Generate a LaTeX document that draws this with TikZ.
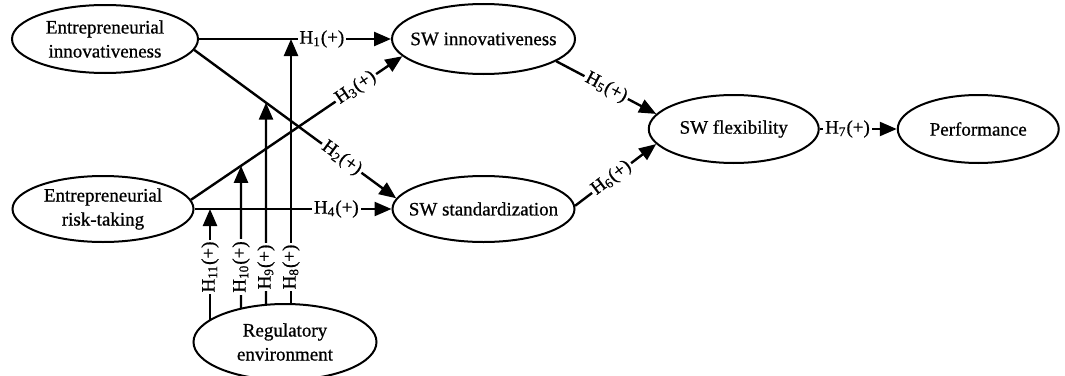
\documentclass[tikz,border=0pt]{standalone}
\usepackage{fontspec}
\setmainfont{Liberation Serif}[FakeBold=0.7]
\usetikzlibrary{shapes.geometric, positioning, calc, arrows.meta, backgrounds}

\begin{document}
\begin{tikzpicture}[x=0.5pt, y=-0.5pt,
    factor/.style={ellipse, draw=black, line width=1pt, fill=white, align=center, inner ysep=1pt, inner xsep=-8pt, font=\fontsize{9.5}{12}\selectfont},
    link/.style={-{Triangle[length=8.5pt, width=7pt]}, line width=1.2pt},
    hyp/.style={fill=white, inner sep=1pt, font=\fontsize{9.5}{11}\selectfont}]

      \useasboundingbox (0,0) rectangle (1065,375);

      % Konstrukte links
      \node[factor, minimum width=93pt, minimum height=34pt] (EI) at (105,39) {Entrepreneurial\\innovativeness};
      \node[factor, minimum width=90.5pt, minimum height=33pt, below=50.5pt of EI, xshift=-1pt] (ERT) {Entrepreneurial\\risk-taking};

      % Konstrukte Mitte
      \node[factor, minimum width=91.5pt, minimum height=35pt, right=96pt of EI] (SWI) {SW innovativeness};
      \node[factor, minimum width=91pt, minimum height=33pt, below=50pt of SWI] (SWS) {SW standardization};

      % Konstrukte rechts
      \coordinate (mid) at ($(SWI.east)!0.5!(SWS.east)$);
      \node[factor, minimum width=85pt, minimum height=34pt, right=36pt of mid, yshift=-2.5pt] (SWF) {SW flexibility};
      \node[factor, minimum width=80.5pt, minimum height=34pt, right=38.5pt of SWF] (Perf) {Performance};

      % Moderator
      \node[factor, minimum width=91.5pt, minimum height=38pt, below=30pt of ERT, xshift=91pt] (Reg) {Regulatory\\environment};

      % Pfeile
      \draw[link] (EI.east) -- node[hyp, pos=0.64] {H\textsubscript{1}(+)} (SWI.west);
      \draw[link] (EI.353) -- node[hyp, sloped, pos=0.73] {H\textsubscript{2}(+)} (SWS.173);
      \draw[link] (ERT.6) -- node[hyp, sloped, pos=0.78] {H\textsubscript{3}(+)} (SWI.192);
      \draw[link] (ERT.east) -- node[hyp, pos=0.72] {H\textsubscript{4}(+)} (ERT.east -| SWS.west);
      \draw[link] (SWI.343) -- node[hyp, sloped, pos=0.5] {H\textsubscript{5}(+)} (SWF.169);
      \draw[link] (SWS.2) -- node[hyp, sloped, pos=0.45] {H\textsubscript{6}(+)} (SWF.191);
      \draw[link] (SWF.east) -- node[hyp, pos=0.36] {H\textsubscript{7}(+)} (Perf.west);

      % Moderationspfeile
      \coordinate (m8) at ([xshift=3pt]Reg.center);
      \coordinate (m9) at ([xshift=-9.5pt]Reg.center);
      \coordinate (m10) at ([xshift=-22pt]Reg.center);
      \coordinate (m11) at ([xshift=-37.5pt]Reg.center);
      \coordinate (m9top) at (m9 |- EI.north);
      \coordinate (m10top) at (m10 |- EI.north);

      \begin{pgfonlayer}{background}
        \draw[link] (m8) -- (m8 |- EI.east);
        \draw[link] (m9) -- (intersection of EI.353--SWS.173 and m9--m9top);
        \draw[link] (m10) -- (intersection of ERT.6--SWI.192 and m10--m10top);
        \draw[link] (m11) -- (m11 |- ERT.east);
      \end{pgfonlayer}

      % Beschriftung der Moderationspfeile
      \node[hyp, rotate=90] (l8) at ([yshift=37.5pt]m8) {H\textsubscript{8}(+)};
      \node[hyp, rotate=90] (l9) at ([yshift=37.5pt]m9) {H\textsubscript{9}(+)};
      \node[hyp, rotate=90] (l10) at ([yshift=37.5pt]m10) {H\textsubscript{10}(+)};
      \node[hyp, rotate=90] (l11) at ([yshift=37.5pt]m11) {H\textsubscript{11}(+)};

\end{tikzpicture}
\end{document}
